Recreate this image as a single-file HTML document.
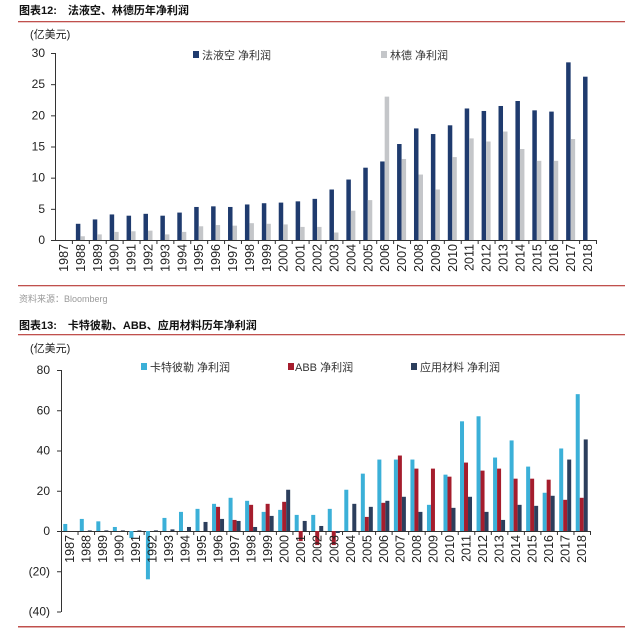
<!DOCTYPE html><html><head><meta charset="utf-8"><style>
body{margin:0;background:#fff;width:640px;height:637px;overflow:hidden}
svg{display:block;font-family:"Liberation Sans","Noto Sans CJK SC",sans-serif}
</style></head><body>
<svg id="s" width="640" height="637" xmlns="http://www.w3.org/2000/svg"></svg>
<script>
const s=document.getElementById('s');let h='';
const T=(x,y,t,o='')=>h+=`<text x="${x}" y="${y}" ${o}>${t}</text>`;
const R=(x,y,w,hh,c)=>h+=`<rect x="${x}" y="${y}" width="${w}" height="${hh}" fill="${c}"/>`;
T(19,14,'图表12:　法液空、林德历年净利润','font-size="11" font-weight="bold" fill="#111"');
R(18,21,607,1.3,'#c0504d');R(18,285,607,1.3,'#c0504d');
T(19,302,'资料来源：Bloomberg','font-size="9" fill="#999"');
T(19,329,'图表13:　卡特彼勒、ABB、应用材料历年净利润','font-size="11" font-weight="bold" fill="#111"');
R(18,334,607,1.3,'#c0504d');R(18,626,607,1.5,'#c0504d');
const yrs=[];for(let y=1987;y<=2018;y++)yrs.push(y);
const d1=[0,2.6,3.3,4.1,3.9,4.2,3.9,4.4,5.3,5.4,5.3,5.7,5.9,6.0,6.2,6.6,8.1,9.7,11.6,12.6,15.4,17.9,17.0,18.4,21.1,20.7,21.5,22.3,20.8,20.6,28.5,26.2];
const g1=[0,0.6,0.9,1.3,1.4,1.5,0.9,1.3,2.2,2.4,2.3,2.7,2.6,2.5,2.1,2.1,1.2,4.7,6.4,23.0,13.0,10.5,8.1,13.3,16.3,15.8,17.4,14.6,12.7,12.7,16.2,0];
let X0=55,X1=596,Y0=240,k=187/30,cw=(X1-X0)/32;
T(30,38,'(亿美元)','font-size="11" fill="#222"');
for(let v=0;v<=30;v+=5){let y=Y0-v*k;T(45,y+4,v,'font-size="12" fill="#222" text-anchor="end"');R(X0-4,y,4,1,'#333')}
R(X0,53,1,187,'#333');R(X0,Y0,X1-X0,1,'#333');
yrs.forEach((yr,i)=>{let c=X0+cw*(i+0.5);
if(d1[i])R(c-4.5,Y0-d1[i]*k,4.5,d1[i]*k,'#1f3b6e');
if(g1[i])R(c,Y0-g1[i]*k,4.5,g1[i]*k,'#c4c6c9');
R(X0+cw*(i+1),Y0,1,4,'#333');
h+=`<text transform="translate(${c+4.5},${Y0+4}) rotate(-90)" text-anchor="end" font-size="12.5" fill="#222">${yr}</text>`});
R(193,51,6,7,'#1f3b6e');T(202,59,'法液空 净利润','font-size="11" fill="#333"');
R(381,51,6,7,'#c4c6c9');T(390,59,'林德 净利润','font-size="11" fill="#333"');
const c2=[3.5,6,4.8,2,-3.5,-24,6.5,9.5,11,13.5,16.5,15,9.5,10.5,8,8,11,20.5,28.5,35.5,35.5,35.5,13,28,54.5,57,36.5,45,32,19,41,68];
const r2=[0,0,0,0,0,0,0,0,0,12,5.5,13,13.5,14.5,-5,-7,-7,0,7,14,37.5,31,31,27,34,30,31,26,26,25.5,15.5,16.5];
const n2=[0,0.3,0.3,0.3,0.3,0.3,0.8,2,4.5,6,5,2,7.5,20.5,5,2.5,-1,13.5,12,15,17,9.5,0,11.5,17,9.5,5.5,13,12.5,17.5,35.5,45.5];
X0=61;X1=590;Y0=531;k=161/80;cw=(X1-X0)/32;
T(30,352,'(亿美元)','font-size="11" fill="#222"');
for(let v=-40;v<=80;v+=20){let y=Y0-v*k;T(50,y+4,v<0?'('+(-v)+')':v,'font-size="12" fill="#222" text-anchor="end"');R(X0-4,y,4,1,'#333')}
R(X0,370,1,242,'#333');R(X0,Y0,X1-X0,1,'#333');
const bar=(x,v,c)=>{if(!v)return;R(x,v>0?Y0-v*k:Y0,4,Math.abs(v)*k,c)};
yrs.forEach((yr,i)=>{let c=X0+cw*(i+0.5);
bar(c-6,c2[i],'#3bb0d8');bar(c-2,r2[i],'#a51d2d');bar(c+2,n2[i],'#2c3e5c');
R(X0+cw*(i+1),Y0,1,4,'#333');
h+=`<text transform="translate(${c+4.5},${Y0+4}) rotate(-90)" text-anchor="end" font-size="12.5" fill="#222">${yr}</text>`});
R(141,363,6,7,'#3bb0d8');T(150,371,'卡特彼勒 净利润','font-size="11" fill="#333"');
R(288,363,6,7,'#a51d2d');T(295,371,'ABB 净利润','font-size="11" fill="#333"');
R(411,363,6,7,'#2c3e5c');T(420,371,'应用材料 净利润','font-size="11" fill="#333"');
s.innerHTML=h;
</script></body></html>
